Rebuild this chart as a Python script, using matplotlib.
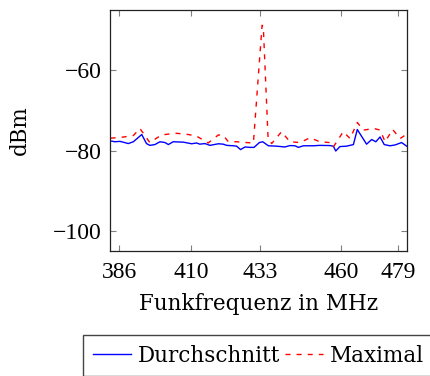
import matplotlib.pyplot as plt

# Durchschnittspegel je Frequenz
freq_avg = [383.1, 384.6, 386.2, 387.3, 389.0, 390.7, 393.5, 395.1, 396.2, 397.9,
            399.6, 401.3, 402.4, 404.0, 407.4, 410.2, 411.8, 412.9, 414.6, 416.3,
            419.1, 420.7, 421.9, 424.1, 425.2, 426.5, 428.0, 429.7, 431.0, 432.8,
            433.9, 435.8, 438.6, 441.3, 443.0, 444.7, 445.8, 447.5, 450.8, 453.0,
            456.4, 457.5, 458.3, 459.7, 461.9, 464.2, 465.5, 466.9, 468.6, 470.3,
            471.7, 473.1, 474.5, 476.4, 478.1, 480.3, 482.0]
dbm_avg = [-77.6, -77.8, -77.7, -77.9, -78.25, -77.8, -76.0, -78.25, -78.7, -78.5,
           -77.8, -78.0, -78.5, -77.8, -77.9, -78.3, -78.1, -78.4, -78.25, -78.7,
           -78.3, -78.4, -78.7, -78.8, -78.9, -79.75, -79.1, -79.2, -79.2, -78.0,
           -77.8, -78.8, -78.9, -79.1, -78.75, -78.8, -79.2, -78.8, -78.8, -78.7,
           -78.75, -78.9, -80.1, -79.0, -78.9, -78.5, -74.75, -76.4, -78.4, -77.25,
           -77.8, -76.6, -78.5, -78.8, -78.6, -78.0, -78.9]

# Maximalpegel je Frequenz
freq_max = [383.1, 386.2, 390.7, 392.9, 396.2, 400.1, 403.5, 405.2, 409.1, 411.8,
            415.7, 419.1, 420.7, 422.4, 425.2, 428.5, 430.8, 433.7, 434.1, 435.7,
            436.9, 440.2, 443.0, 446.4, 449.7, 453.0, 456.4, 457.5, 460.8, 463.1,
            465.5, 467.5, 471.1, 473.1, 474.8, 477.3, 479.8, 481.4, 482.0]
dbm_max = [-76.9, -76.75, -76.25, -74.5, -78.0, -76.1, -75.8, -75.7, -76.0, -76.4,
           -78.1, -76.1, -76.2, -77.75, -77.8, -78.0, -78.1, -48.8, -49.1, -76.9,
           -78.25, -75.3, -77.8, -78.0, -76.8, -77.8, -78.0, -79.1, -75.3, -77.0,
           -73.0, -74.9, -74.5, -74.9, -77.8, -74.75, -77.0, -76.2, -77.4]

xticks = [386, 410, 433, 460, 479]
yticks = [-60, -80, -100]

plt.rcParams['font.family'] = ['Liberation Serif', 'DejaVu Serif']
plt.rcParams['font.size'] = 17
textfont = {'family': ['DejaVu Serif'], 'size': 15.5}

fig = plt.figure(figsize=(4.3, 3.76), dpi=100)
ax = fig.add_axes([0.2558, 0.3324, 0.6907, 0.641])

l1, = ax.plot(freq_avg, dbm_avg, color='blue', lw=1.0, label='Durchschnitt')
l2, = ax.plot(freq_max, dbm_max, color='red', lw=1.0, ls=(0, (3.6, 4.4)), label='Maximal')

ax.set_xlim(382.9, 482.1)
ax.set_ylim(-105, -45)
ax.set_xticks(xticks)
ax.set_yticks(yticks)
ax.tick_params(direction='in', length=4, width=0.8, color='#808080',
               top=True, right=True)
ax.tick_params(axis='x', pad=8)
ax.tick_params(axis='y', pad=6)
for s in ax.spines.values():
    s.set_linewidth(0.9)
    s.set_color('#222222')

ax.set_xlabel('Funkfrequenz in MHz', fontdict=textfont, labelpad=7)
ax.set_ylabel('dBm', fontdict=textfont)
ax.yaxis.set_label_coords(-0.265, 0.5)

fig.legend(handles=[l1, l2], loc='upper left', bbox_to_anchor=(0.193, 0.109),
           ncol=2, frameon=True, fancybox=False, edgecolor='#444444',
           prop=textfont, handlelength=1.8, handletextpad=0.3, columnspacing=0.2,
           borderpad=0.45, borderaxespad=0, framealpha=1)

fig.savefig('out.png', dpi=100)
